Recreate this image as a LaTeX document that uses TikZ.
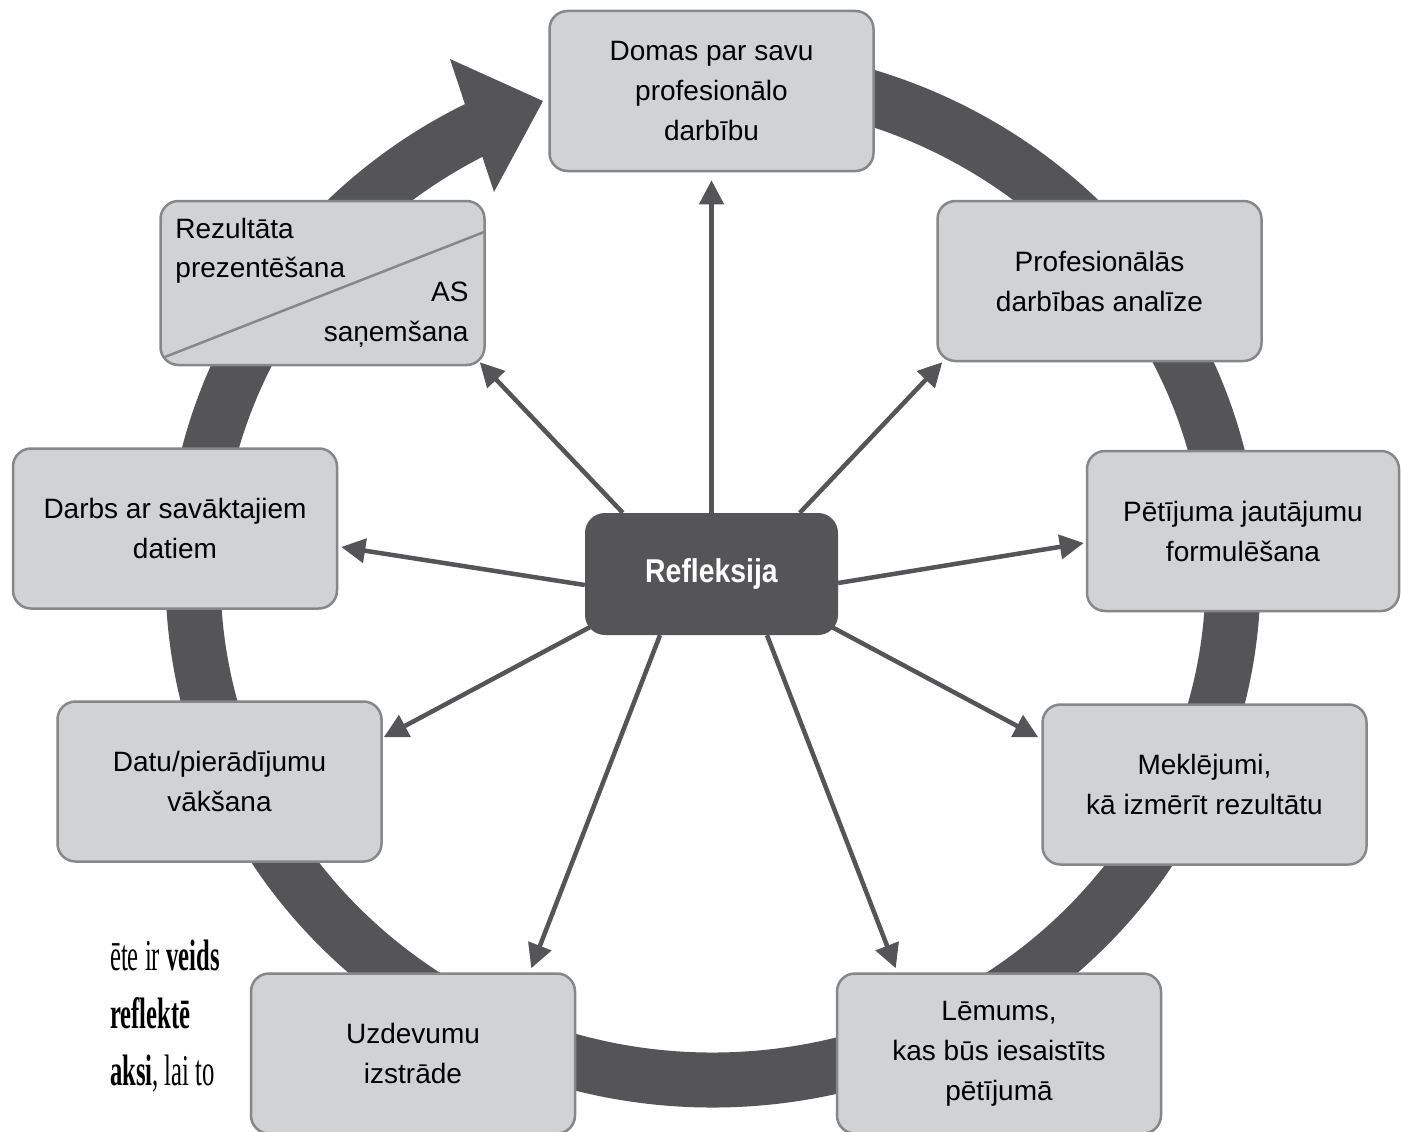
\documentclass[tikz,border=0pt]{standalone}
\usepackage{fontspec}
\setmainfont{Liberation Sans}
\newfontfamily\condfont{Liberation Sans}[FakeStretch=0.86]
\newfontfamily\pagefont{Liberation Serif}[FakeStretch=0.56]
\usetikzlibrary{arrows.meta,calc}
\definecolor{dark}{RGB}{85,85,87}
\definecolor{boxfill}{RGB}{209,210,212}
\definecolor{boxline}{RGB}{135,135,137}
\begin{document}
\begin{tikzpicture}[x=1pt,y=-1pt,
  box/.style={draw=boxline, line width=2.5pt, fill=boxfill, rounded corners=18pt,
    minimum width=324pt, minimum height=160pt, align=center, inner sep=0pt,
    font=\fontsize{28}{40}\selectfont, text=black},
  hub/.style={fill=dark, rounded corners=20pt, minimum width=253pt, minimum height=122pt,
    inner sep=0pt, text=white, font=\condfont\bfseries\fontsize{33}{40}\selectfont},
  spoke/.style={draw=dark, line width=4.5pt, -{Triangle[length=24pt,width=24pt]}},
  ring/.style={draw=dark, line width=55pt},
  lbl/.style={inner sep=0pt, font=\fontsize{28}{40}\selectfont},
  pagetxt/.style={inner sep=0pt, anchor=base west, font=\pagefont\fontsize{44}{50}\selectfont}
]
\useasboundingbox (0,0) rectangle (1401,1132);
\fill[white] (0,0) rectangle (1401,1132);

% ring with arrow head
\draw[ring] (713,577) ++(-95:520 and 503)
  arc[start angle=-95, end angle=243, x radius=520, y radius=503];
\fill[dark] (450,59) -- (543,101) -- (494,192) -- cycle;

% page text at lower left
\node[pagetxt] (t1) at (110,970) {ēte ir \textbf{veids}};
\node[pagetxt] (t2) at (110,1028) {\textbf{reflektē}};
\node[pagetxt] (t3) at (110,1085) {\textbf{aksi}, lai to};

% boxes
\node[box] (top) at (711.5,91) {Domas par savu\\profesionālo\\darbību};
\node[box] (prof) at (1099.5,281) {Profesionālās\\darbības analīze};
\node[box, minimum width=312pt] (pet) at (1243,531) {Pētījuma jautājumu\\formulēšana};
\node[box] (mek) at (1204.5,784.5) {Meklējumi,\\kā izmērīt rezultātu};
\node[box] (lem) at (999,1053.5) {Lēmums,\\kas būs iesaistīts\\pētījumā};
\node[box] (uzd) at (413,1053.5) {Uzdevumu\\izstrāde};
\node[box] (datu) at (219.5,781.5) {Datu/pierādījumu\\vākšana};
\node[box] (darbs) at (175,528.5) {Darbs ar savāktajiem\\datiem};
\node[box, minimum height=164pt] (rez) at (322.5,283) {};
\draw[draw=boxline, line width=2.5pt] ($(rez.south west)+(5,-9)$) -- ($(rez.north east)+(-1,32)$);
\node[lbl, anchor=base west] (r1) at ($(rez.north west)+(16,39)$) {Rezultāta};
\node[lbl, anchor=base west] (r2) at ($(rez.north west)+(16,78)$) {prezentēšana};
\node[lbl, anchor=base east] (r3) at ($(rez.north east)+(-17,102)$) {AS};
\node[lbl, anchor=base east] (r4) at ($(rez.north east)+(-17,142)$) {saņemšana};

\node[hub] (c) at (711.5,574) {Refleksija};

% spokes
\draw[spoke] (c.north) -- ($(top.south)+(0,8)$);
\draw[spoke] ($(c.north west)+(215,0)$) -- ($(prof.south west)+(6,0)$);
\draw[spoke] ($(c.east)+(0,9)$) -- ($(pet.west)+(-2,12)$);
\draw[spoke] ($(c.south east)+(-6,-8)$) -- ($(mek.north west)+(-3,34)$);
\draw[spoke] ($(c.south)+(55.5,0)$) -- ($(lem.north west)+(60,-4)$);
\draw[spoke] ($(c.south)+(-51.5,0)$) -- ($(uzd.north east)+(-45,-4)$);
\draw[spoke] ($(c.south west)+(5,-8)$) -- ($(datu.north east)+(1,37)$);
\draw[spoke] ($(c.west)+(0,11)$) -- ($(darbs.east)+(3,18.5)$);
\draw[spoke] ($(c.north west)+(38,0)$) -- ($(rez.south east)+(-6,-4)$);
\end{tikzpicture}
\end{document}
